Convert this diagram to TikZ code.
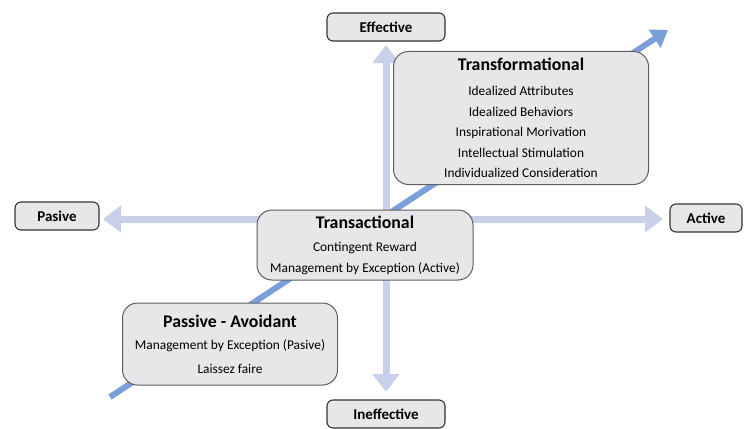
\documentclass[tikz,border=0pt]{standalone}
\usepackage{fontspec}
\setmainfont{Carlito}
\usetikzlibrary{arrows.meta,positioning,shapes}

\definecolor{axisblue}{HTML}{C9D1EA}
\definecolor{diagblue}{HTML}{7B9FD9}
\definecolor{boxgray}{HTML}{E7E7E9}
\definecolor{boxline}{HTML}{5E5E5E}

\tikzset{
  axislabel/.style={draw=black!80, line width=1.1pt, fill=boxgray, rounded corners=6pt,
    minimum height=28pt, font=\fontsize{15}{17}\selectfont\bfseries},
  stylebox/.style={draw=boxline, line width=1pt, fill=boxgray, rounded corners=15pt,
    align=center, font=\fontsize{13.4}{20.5}\selectfont},
  axisarrow/.style={draw=axisblue, line width=7pt,
    arrows={Triangle[width=26pt,length=18pt]-Triangle[width=26pt,length=18pt]}},
  growarrow/.style={draw=diagblue, line width=6pt,
    arrows={-Triangle[width=21pt,length=16pt]}}
}
\newcommand{\boxtitle}[1]{{\fontsize{17.8}{21}\selectfont\bfseries #1}}

\begin{document}
\begin{tikzpicture}[x=1pt,y=-1pt]
\useasboundingbox (0,0) rectangle (746,428);

% Axis ends
\coordinate (top) at (386,45);
\coordinate (bottom) at (386,392);
\coordinate (left) at (103,219);
\coordinate (right) at (663,219);
\coordinate (low) at (110,397);
\coordinate (high) at (668,30);

% Axes
\draw[axisarrow] (bottom) -- (top);
\draw[axisarrow] (left) -- (right);
\draw[growarrow] (low) -- (high);

% Axis labels
\node[axislabel, minimum width=118pt] (effective) at (386,27) {Effective};
\node[axislabel, minimum width=118pt] (ineffective) at (386,414) {Ineffective};
\node[axislabel, minimum width=84pt] (pasive) at (57,216) {Pasive};
\node[axislabel, minimum width=72pt] (active) at (706,218) {Active};

% Leadership styles
\node[stylebox, minimum width=255pt, minimum height=133pt] (transformational) at (521,118)
  {\boxtitle{Transformational}\\[5pt] Idealized Attributes\\ Idealized Behaviors\\
   Inspirational Morivation\\ Intellectual Stimulation\\ Individualized Consideration};
\node[stylebox, minimum width=216pt, minimum height=70pt] (transactional) at (365,245)
  {\boxtitle{Transactional}\\[3pt] Contingent Reward\\ Management by Exception (Active)};
\node[stylebox, minimum width=215pt, minimum height=82pt] (passive) at (230,344)
  {\boxtitle{Passive - Avoidant}\\[2pt] Management by Exception (Pasive)\\[3pt] Laissez faire};
\end{tikzpicture}
\end{document}
